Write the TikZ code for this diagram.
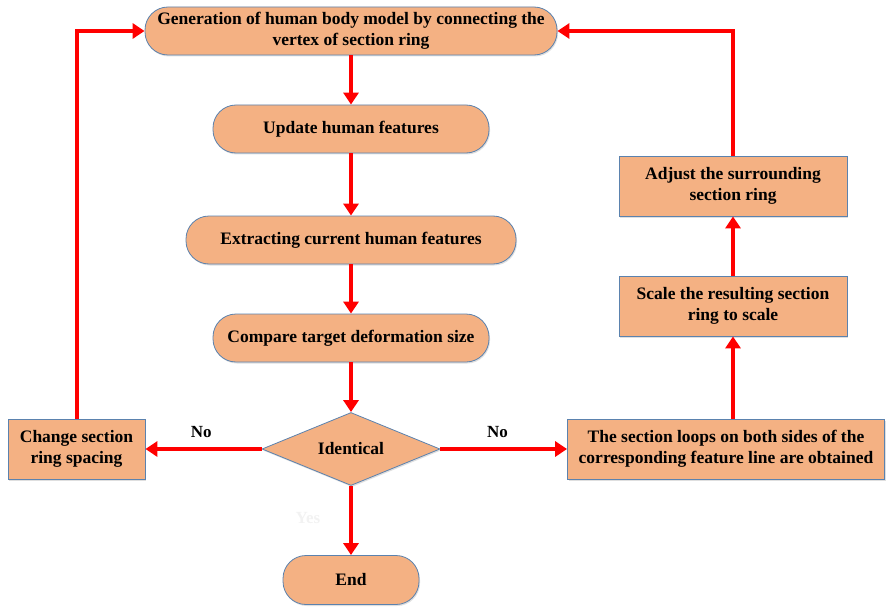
\documentclass[tikz,border=0pt]{standalone}
\usepackage{fontspec}
\setmainfont{Liberation Serif}
\usetikzlibrary{arrows.meta,shapes.geometric,shadows}
\definecolor{boxfill}{HTML}{F4B183}
\definecolor{boxline}{HTML}{5B82AE}
\definecolor{flowred}{HTML}{FF0000}
\tikzset{
  base/.style={draw=boxline, line width=0.8pt, fill=boxfill, align=center,
    font=\fontsize{17.5}{21.5}\selectfont\bfseries, inner sep=0pt,
    drop shadow={shadow xshift=1pt, shadow yshift=-1.5pt, fill=black!25, opacity=0.5}},
  stadium/.style={base, rounded corners=23pt, minimum height=48pt},
  process/.style={base, minimum height=60pt},
  decision/.style={base, diamond, aspect=2.44, minimum width=178pt, minimum height=73pt},
  flow/.style={draw=flowred, line width=4pt, -{Triangle[length=12pt,width=15pt]}},
  lbl/.style={font=\fontsize{17}{20}\selectfont\bfseries}
}
\begin{document}
\begin{tikzpicture}[x=1pt,y=-1pt]
\useasboundingbox (0,0) rectangle (886,607);

% main column
\node[stadium, minimum width=412pt] (gen) at (351,31)
  {Generation of human body model by connecting the\\vertex of section ring};
\node[stadium, minimum width=276pt] (upd) at (351,129) {Update human features};
\node[stadium, minimum width=330pt] (ext) at (351,240) {Extracting current human features};
\node[stadium, minimum width=276pt] (cmp) at (351,338) {Compare target deformation size};
\node[decision] (idt) at (351,449) {Identical};
\node[stadium, minimum width=136pt, minimum height=49pt] (end) at (351,580) {End};

% side branches
\node[process, minimum width=137pt] (chg) at (76.5,449) {Change section\\ring spacing};
\node[process, minimum width=317pt] (obt) at (726,449)
  {The section loops on both sides of the\\corresponding feature line are obtained};
\node[process, minimum width=228pt] (scl) at (733,306) {Scale the resulting section\\ring to scale};
\node[process, minimum width=228pt] (adj) at (733,186) {Adjust the surrounding\\section ring};

% connectors
\draw[flow] (gen) -- (upd);
\draw[flow] (upd) -- (ext);
\draw[flow] (ext) -- (cmp);
\draw[flow] (cmp) -- (idt);
\draw[flow] (idt) -- (end);
\draw[flow] (idt) -- node[lbl, pos=0.52, above=6pt] {No} (chg);
\draw[flow] (idt) -- node[lbl, pos=0.45, above=6pt] {No} (obt);
\draw[flow] (obt.north -| scl) -- (scl);
\draw[flow] (scl) -- (adj);
\draw[flow] (adj.north) |- (gen.east);
\draw[flow] (chg.north) |- (gen.west);

% faint branch label
\node[lbl, text=black!5] (yes) at (308,518) {Yes};
\end{tikzpicture}
\end{document}
